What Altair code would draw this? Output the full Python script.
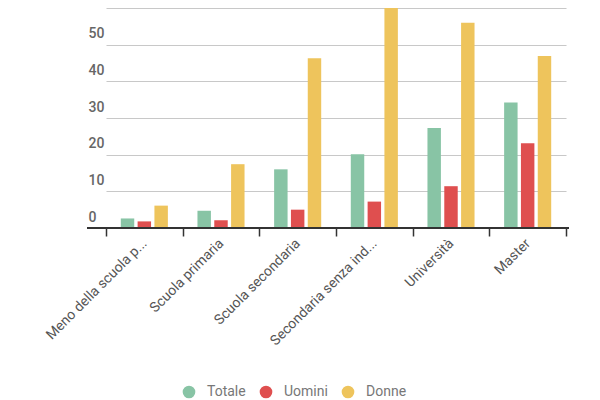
import altair as alt
import pandas as pd

# valori (percentuali)
categorie = [
    "Meno della scuola p...",
    "Scuola primaria",
    "Scuola secondaria",
    "Secondaria senza ind...",
    "Università",
    "Master",
]
serie = ["Totale", "Uomini", "Donne"]
totale = [2.6, 4.7, 16.0, 20.1, 27.3, 34.2]
uomini = [1.8, 2.1, 5.0, 7.2, 11.4, 23.1]
donne = [6.1, 17.4, 46.3, 63.0, 56.0, 46.9]
colori = ["#88c4a5", "#df4f4f", "#eec45c"]
tick_y = [0, 10, 20, 30, 40, 50, 60]

rows = []
for s, valori in zip(serie, [totale, uomini, donne]):
    for c, v in zip(categorie, valori):
        rows.append({"livello": c, "gruppo": s, "valore": v})
df = pd.DataFrame(rows)

y_scale = alt.Scale(domain=[0, 60], nice=False)
y_axis = alt.Axis(
    title=None,
    values=tick_y,
    ticks=False,
    tickSize=0,
    domain=False,
    labelAlign="left",
    labelBaseline="bottom",
    labelPadding=0,
    labelOffset=-4,
    labelFontSize=14,
    labelFontWeight=500,
    labelColor="#666666",
    gridColor="#c8c8c8",
    gridWidth=1.2,
)

bars = (
    alt.Chart(df)
    .mark_bar()
    .encode(
        x=alt.X(
            "livello:N",
            sort=categorie,
            scale=alt.Scale(range=[18, 478], paddingInner=0, paddingOuter=0),
            axis=alt.Axis(
                title=None,
                labelAngle=-45,
                labelAlign="right",
                labelBaseline="middle",
                labelFontSize=14,
                labelColor="#555555",
                labelPadding=5,
                tickBand="extent",
                tickSize=8,
                tickColor="#333333",
                tickWidth=1.5,
                domain=False,
                grid=False,
            ),
        ),
        xOffset=alt.XOffset(
            "gruppo:N", sort=serie, scale=alt.Scale(paddingInner=0.2, paddingOuter=0.88)
        ),
        y=alt.Y("valore:Q", scale=y_scale, axis=y_axis),
        color=alt.Color(
            "gruppo:N",
            sort=serie,
            scale=alt.Scale(domain=serie, range=colori),
            legend=alt.Legend(
                title=None,
                orient="none",
                legendX=94,
                legendY=377,
                direction="horizontal",
                symbolType="circle",
                symbolSize=160,
                symbolStrokeWidth=0,
                labelFontSize=14,
                labelColor="#777777",
                labelOffset=11,
                columnPadding=13,
            ),
        ),
    )
)

# linea di base scura sotto le barre
base = (
    alt.Chart(pd.DataFrame({"zero": [0]}))
    .mark_rule(color="#333333", strokeWidth=2)
    .encode(x=alt.value(-1), x2=alt.value(481), y=alt.Y("zero:Q", scale=y_scale, axis=y_axis))
)

chart = (
    alt.layer(bars, base)
    .properties(
        width=478,
        height=220,
        autosize="none",
        padding={"left": 80, "top": 0, "right": 20, "bottom": 172},
        background="white",
    )
    .configure(font="Roboto")
    .configure_view(stroke=None)
)

chart.save("out.html", embed_options={"renderer": "svg", "actions": False})
